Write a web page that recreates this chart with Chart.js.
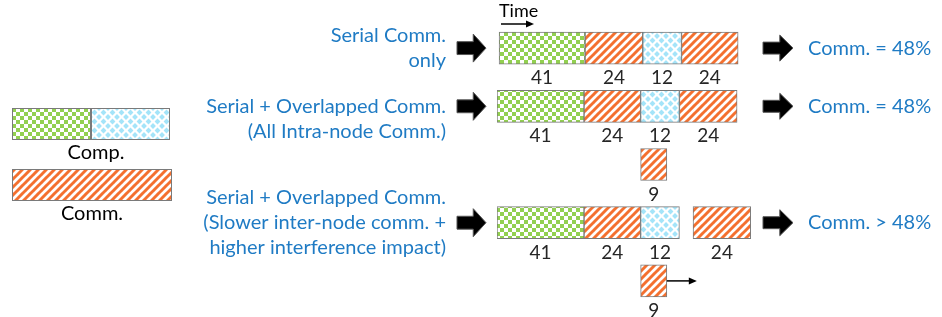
<!DOCTYPE html>
<html>
<head>
<meta charset="utf-8">
<script src="https://cdn.jsdelivr.net/npm/chart.js@4"></script>
<style>
html, body { margin: 0; padding: 0; background: #fff; }
#wrap { width: 942px; height: 317px; position: relative; }
</style>
</head>
<body>
<div id="wrap"><canvas id="myChart"></canvas></div>
<script>
// Rows of the diagram, top to bottom (empty rows hold the overlapped comm. block)
const laneLabels = [
    ['Serial Comm.', 'only'],
    ['', 'Serial + Overlapped Comm.', '(All Intra-node Comm.)'],
    '',
    ['Serial + Overlapped Comm.', '(Slower inter-node comm. +', 'higher interference impact)'],
    ''
];
const resultLabels = ['Comm. = 48%', 'Comm. = 48%', '', 'Comm. > 48%', ''];

// Time spans of each block as drawn [start, end]
const compA = [[1, 42], [0, 41.5], null, [0, 41.5], null];
const commA = [[42, 69.5], [41.5, 68.5], null, [41.5, 68.5], null];
const compB = [[69.5, 88], [68.5, 87], null, [68.5, 87], null];
const commB = [[88, 115], [87, 114.5], null, [93.5, 121], null];
const commOverlap = [null, null, [68.5, 81], null, [68.5, 81]];

// Numbers written under each block
const compAValues = [41, 41, null, 41, null];
const commAValues = [24, 24, null, 24, null];
const compBValues = [12, 12, null, 12, null];
const commBValues = [24, 24, null, 24, null];
const overlapValues = [null, null, 9, null, 9];

// Rows where the overlapped comm. gets pushed later
const delayedLanes = [4];

const BLUE_TEXT = '#1f7bc4';
const GREEN = '#92d050';
const LIGHT_BLUE = '#a4e4f9';
const ORANGE = '#f4702f';
const EDGE = '#7a7a7a';

// Patterns
function makeTile(size, draw) {
    const c = document.createElement('canvas');
    c.width = size;
    c.height = size;
    const g = c.getContext('2d');
    g.fillStyle = '#fff';
    g.fillRect(0, 0, size, size);
    draw(g, size);
    return document.createElement('canvas').getContext('2d').createPattern(c, 'repeat');
}

const checkPattern = makeTile(8, (g) => {
    g.fillStyle = GREEN;
    g.fillRect(0, 0, 4, 4);
    g.fillRect(4, 4, 4, 4);
});

const diamondPattern = makeTile(9, (g, s) => {
    g.fillStyle = LIGHT_BLUE;
    const h = s / 2;
    const r = 2.9;
    [[h, h], [0, 0], [s, 0], [0, s], [s, s]].forEach(([cx, cy]) => {
        g.beginPath();
        g.moveTo(cx, cy - r);
        g.lineTo(cx + r, cy);
        g.lineTo(cx, cy + r);
        g.lineTo(cx - r, cy);
        g.closePath();
        g.fill();
    });
});

const stripePattern = makeTile(8, (g, s) => {
    g.strokeStyle = ORANGE;
    g.lineWidth = 3;
    [-s, 0, s].forEach(k => {
        g.beginPath();
        g.moveTo(k - 1, s + 1);
        g.lineTo(k + s + 1, -1);
        g.stroke();
    });
});

function blockArrow(ctx, x, y, w, h) {
    const shaft = h * 0.46;
    const headX = x + w * 0.56;
    ctx.beginPath();
    ctx.moveTo(x, y - shaft / 2);
    ctx.lineTo(headX, y - shaft / 2);
    ctx.lineTo(headX, y - h / 2);
    ctx.lineTo(x + w, y);
    ctx.lineTo(headX, y + h / 2);
    ctx.lineTo(headX, y + shaft / 2);
    ctx.lineTo(x, y + shaft / 2);
    ctx.closePath();
    ctx.fillStyle = '#000';
    ctx.fill();
    ctx.strokeStyle = '#555';
    ctx.lineWidth = 1;
    ctx.stroke();
}

function lineArrow(ctx, x1, x2, y) {
    ctx.strokeStyle = '#000';
    ctx.fillStyle = '#000';
    ctx.lineWidth = 1.5;
    ctx.beginPath();
    ctx.moveTo(x1, y);
    ctx.lineTo(x2 - 6, y);
    ctx.stroke();
    ctx.beginPath();
    ctx.moveTo(x2, y);
    ctx.lineTo(x2 - 8, y - 3.5);
    ctx.lineTo(x2 - 8, y + 3.5);
    ctx.closePath();
    ctx.fill();
}

const diagramPlugin = {
    id: 'diagram',
    afterDatasetsDraw(chart) {
        const { ctx, chartArea } = chart;
        const yScale = chart.scales.y;
        ctx.save();

        // numbers under the blocks
        ctx.font = '19px Lato';
        ctx.fillStyle = '#262626';
        ctx.textAlign = 'center';
        ctx.textBaseline = 'middle';
        chart.data.datasets.forEach((ds, i) => {
            const meta = chart.getDatasetMeta(i);
            meta.data.forEach((bar, j) => {
                const v = ds.values[j];
                if (v == null) return;
                const cx = (bar.x + bar.base) / 2;
                ctx.fillText(String(v), cx, bar.y + bar.height / 2 + 14);
            });
        });

        // delayed overlapped comm.
        const ovMeta = chart.getDatasetMeta(4);
        delayedLanes.forEach(lane => {
            const bar = ovMeta.data[lane];
            lineArrow(ctx, bar.x, bar.x + 30, bar.y);
        });

        // block arrows before and after each row
        resultLabels.forEach((t, lane) => {
            if (!t) return;
            const y = yScale.getPixelForValue(lane);
            blockArrow(ctx, chartArea.left - 40, y, 29, 28);
            blockArrow(ctx, chartArea.right + 6, y, 30, 26);
        });

        // Time arrow
        ctx.font = '18px Lato';
        ctx.fillStyle = '#000';
        ctx.textAlign = 'left';
        ctx.fillText('Time', chartArea.left + 2, 11);
        lineArrow(ctx, chartArea.left + 4, chartArea.left + 37, 24);

        // legend
        ctx.fillStyle = checkPattern;
        ctx.fillRect(12, 108, 79, 32);
        ctx.fillStyle = diamondPattern;
        ctx.fillRect(91, 108, 79, 32);
        ctx.strokeStyle = EDGE;
        ctx.lineWidth = 1;
        ctx.strokeRect(12.5, 108.5, 78, 31);
        ctx.strokeRect(91.5, 108.5, 78, 31);
        ctx.fillStyle = stripePattern;
        ctx.fillRect(12, 169, 160, 32);
        ctx.strokeRect(12.5, 169.5, 159, 31);

        ctx.fillStyle = '#000';
        ctx.textAlign = 'center';
        ctx.font = '20px Lato';
        ctx.fillText('Comp.', 96, 153);
        ctx.fillText('Comm.', 92, 214);
        ctx.restore();
    }
};

function barSet(data, values, fill) {
    return {
        data: data,
        values: values,
        backgroundColor: fill,
        borderColor: EDGE,
        borderWidth: 1,
        borderSkipped: false,
        grouped: false,
        barThickness: 32
    };
}

// side axes: fixed width, no extra label padding above/below
function sideAxis(position, labels, width, tickGap, lineHeight) {
    const axis = {
        type: 'category',
        position: position,
        offset: true,
        grid: {
            display: true,
            color: 'rgba(0,0,0,0)',
            drawOnChartArea: false,
            drawTicks: true,
            tickLength: tickGap
        },
        border: { display: false },
        ticks: {
            color: BLUE_TEXT,
            padding: 3,
            autoSkip: false,
            font: { family: 'Lato', size: 20, lineHeight: lineHeight }
        },
        afterFit: (scale) => {
            scale.width = width;
            scale.paddingTop = 0;
            scale.paddingBottom = 0;
        }
    };
    if (labels) axis.labels = labels;
    return axis;
}

const ctx = document.getElementById('myChart').getContext('2d');
new Chart(ctx, {
    type: 'bar',
    data: {
        labels: laneLabels,
        datasets: [
            barSet(compA, compAValues, checkPattern),
            barSet(commA, commAValues, stripePattern),
            barSet(compB, compBValues, diamondPattern),
            barSet(commB, commBValues, stripePattern),
            barSet(commOverlap, overlapValues, stripePattern)
        ]
    },
    options: {
        indexAxis: 'y',
        responsive: true,
        maintainAspectRatio: false,
        animation: false,
        events: [],
        layout: { padding: { top: 19, bottom: 7, left: 0, right: 0 } },
        plugins: {
            legend: { display: false },
            tooltip: { enabled: false }
        },
        scales: {
            x: { type: 'linear', min: 0, max: 124, display: false },
            y: sideAxis('left', null, 497, 48, 1.25),
            y2: sideAxis('right', resultLabels, 185, 48, 1.2)
        }
    },
    plugins: [diagramPlugin]
});
</script>
</body>
</html>
